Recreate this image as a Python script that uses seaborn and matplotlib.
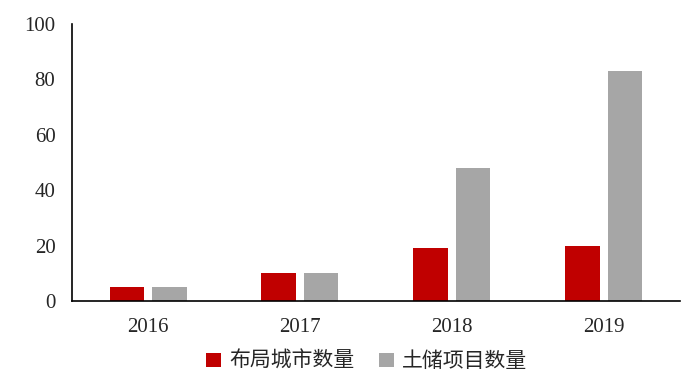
import pandas as pd
import numpy as np
import matplotlib
matplotlib.use("Agg")
import matplotlib.pyplot as plt
import seaborn as sns

# chart data
years = ["2016", "2017", "2018", "2019"]
city_count = [5, 10, 19, 20]        # 布局城市数量
land_projects = [5, 10, 48, 83]     # 土储项目数量
series_names = ["布局城市数量", "土储项目数量"]
colors = ["#C00000", "#A6A6A6"]

df = pd.DataFrame({
    "year": years * 2,
    "value": city_count + land_projects,
    "series": [series_names[0]] * len(years) + [series_names[1]] * len(years),
})

sns.set_style("white")
plt.rcParams['font.family'] = ['Liberation Serif', 'Noto Sans CJK SC']

fig = plt.figure(figsize=(7, 3.84), dpi=100)
ax = fig.add_axes([0.103, 0.216, 0.868, 0.7215])

sns.barplot(data=df, x="year", y="value", hue="series", palette=colors,
            width=0.56, gap=0.19, saturation=1, linewidth=0, ax=ax, legend=True)

ax.set_ylim(0, 100)
ax.set_yticks(np.arange(0, 101, 20))
ax.set_xlim(-0.5, len(years) - 0.5)
ax.set_xlabel("")
ax.set_ylabel("")

# category boundary ticks on the x axis
ax.set_xticks(np.arange(-0.5, len(years), 1.0), minor=True)
ax.tick_params(axis="x", which="major", length=0, pad=12, labelsize=15)
ax.tick_params(axis="x", which="minor", direction="out", length=8, width=1.2, color="black")
ax.tick_params(axis="y", direction="out", length=6, width=1.2, color="black", labelsize=15, pad=6)

for side in ["top", "right"]:
    ax.spines[side].set_visible(False)
for side in ["left", "bottom"]:
    ax.spines[side].set_color("black")
    ax.spines[side].set_linewidth(1.2)

handles, labels = ax.get_legend_handles_labels()
ax.get_legend().remove()
fig.legend(handles, labels, loc="center", bbox_to_anchor=(0.524, 0.057), ncol=2,
           frameon=False, fontsize=15, handlelength=0.7, handleheight=0.7,
           handletextpad=0.4, columnspacing=1.2)

fig.savefig("out.png", dpi=100)
